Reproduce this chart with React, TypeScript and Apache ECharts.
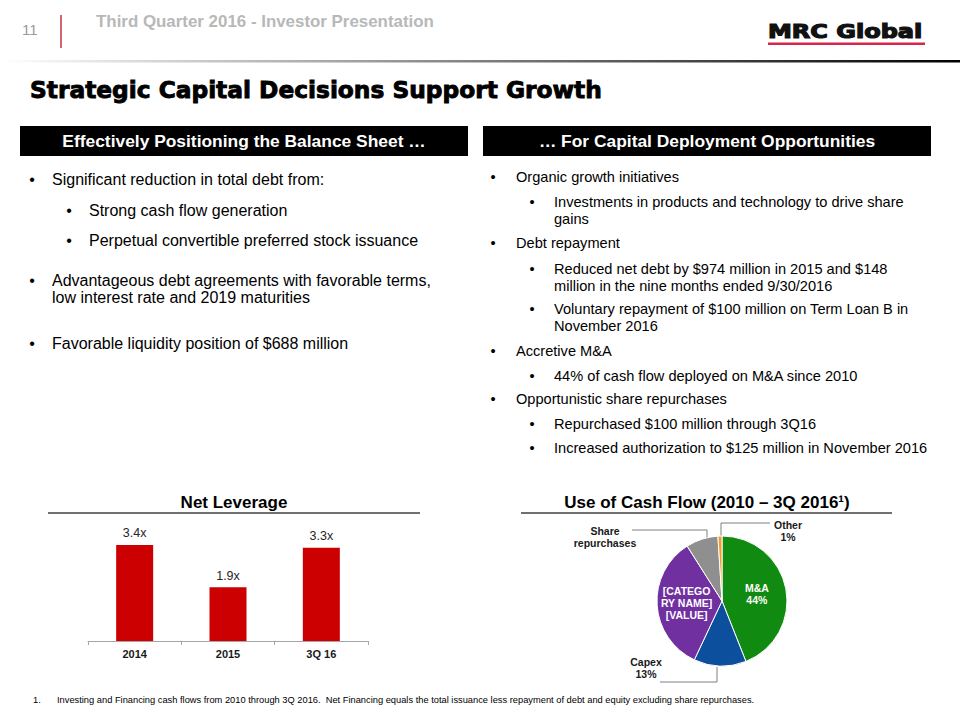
import React, { useEffect, useRef } from "react";
import * as echarts from "echarts";

// ---------- data ----------
const leverageCategories = ["2014", "2015", "3Q 16"];
const leverageValues = [3.4, 1.9, 3.3];

const cashFlowNames = ["M&A", "Capex", "Net Financing", "Share repurchases", "Other"];
const cashFlowValues = [44, 13, 34, 8, 1];
const cashFlowColors = ["#108a10", "#0b4f9d", "#7030a0", "#8f8f8f", "#f39a26"];

const leftItems = [
  { level: 0, text: "Significant reduction in total debt from:" },
  { level: 1, text: "Strong cash flow generation" },
  { level: 1, text: "Perpetual convertible preferred stock issuance" },
  { level: 0, text: "Advantageous debt agreements with favorable terms,\nlow interest rate and 2019 maturities" },
  { level: 0, text: "Favorable liquidity position of $688 million" },
];
const rightItems = [
  { level: 0, text: "Organic growth initiatives" },
  { level: 1, text: "Investments in products and technology to drive share\ngains" },
  { level: 0, text: "Debt repayment" },
  { level: 1, text: "Reduced net debt by $974 million in 2015 and $148\nmillion in the nine months ended 9/30/2016" },
  { level: 1, text: "Voluntary repayment of $100 million on Term Loan B in\nNovember 2016" },
  { level: 0, text: "Accretive M&A" },
  { level: 1, text: "44% of cash flow deployed on M&A since 2010" },
  { level: 0, text: "Opportunistic share repurchases" },
  { level: 1, text: "Repurchased $100 million through 3Q16" },
  { level: 1, text: "Increased authorization to $125 million in November 2016" },
];

const footnoteText =
  "Investing and Financing cash flows from 2010 through 3Q 2016.  Net Financing equals the total issuance less repayment of debt and equity excluding share repurchases.";

// ---------- layout ----------
const leftItemY = [179, 210, 240, 280, 343];
const rightItemY = [177, 202, 243, 269, 309, 351, 376, 399, 424, 448];
const FONT = "'Liberation Sans', Arial, sans-serif";
const PIE_CENTER = [722, 601];
const PIE_R = 65;
const outsideLabelPos: Record<number, [number, number]> = {
  1: [646, 668],
  3: [605, 537],
  4: [788, 531],
};

function bulletElements(items: { level: number; text: string }[], ys: number[], cfg: any) {
  const els: any[] = [];
  items.forEach((it, i) => {
    const y = ys[i];
    els.push({
      type: "text",
      x: it.level ? cfg.subBullet : cfg.mainBullet,
      y,
      style: { text: "•", fontSize: cfg.size, fontFamily: FONT, fill: "#000", align: "center", verticalAlign: "middle" },
    });
    els.push({
      type: "text",
      x: it.level ? cfg.subText : cfg.mainText,
      y: y - cfg.lh / 2,
      style: {
        text: it.text,
        fontSize: cfg.size,
        fontFamily: FONT,
        fill: "#000",
        lineHeight: cfg.lh,
        align: "left",
        verticalAlign: "top",
      },
    });
  });
  return els;
}

export default function App() {
  const ref = useRef<HTMLDivElement>(null);
  useEffect(() => {
    if (!ref.current) return;
    const chart = echarts.init(ref.current, null, { renderer: "svg" });

    const graphics: any[] = [
      // header
      { type: "text", x: 22, y: 29, style: { text: "11", fontSize: 15, fontFamily: FONT, fill: "#9a9a9a", verticalAlign: "middle" } },
      { type: "line", shape: { x1: 61, y1: 15, x2: 61, y2: 48 }, style: { stroke: "#c0393b", lineWidth: 1.5 } },
      {
        type: "text",
        x: 96,
        y: 21,
        style: { text: "Third Quarter 2016 - Investor Presentation", fontSize: 16.9, fontWeight: "bold", fontFamily: FONT, fill: "#b8b8b8", verticalAlign: "middle" },
      },
      {
        type: "text",
        x: 768,
        y: 31,
        scaleX: 1.2,
        style: {
          text: "MRC Global",
          fontSize: 20,
          fontWeight: "bold",
          fontFamily: "'DejaVu Sans', sans-serif",
          fill: "#111",
          stroke: "#111",
          lineWidth: 1.2,
          verticalAlign: "middle",
        },
      },
      { type: "rect", shape: { x: 768, y: 42.5, width: 157, height: 2.5 }, style: { fill: "#d8264b" } },
      {
        type: "rect",
        shape: { x: 0, y: 60, width: 960, height: 2.5 },
        style: {
          fill: new echarts.graphic.LinearGradient(0, 0, 1, 0, [
            { offset: 0, color: "#ffffff" },
            { offset: 1, color: "#000000" },
          ]),
        },
      },
      {
        type: "text",
        x: 30,
        y: 89,
        style: {
          text: "Strategic Capital Decisions Support Growth",
          fontSize: 23.3,
          fontWeight: "bold",
          fontFamily: "'DejaVu Sans', sans-serif",
          fill: "#000",
          stroke: "#000",
          lineWidth: 0.9,
          verticalAlign: "middle",
        },
      },
      // section headers
      { type: "rect", shape: { x: 20, y: 126, width: 448, height: 30 }, style: { fill: "#000" } },
      {
        type: "text",
        x: 244,
        y: 141,
        style: { text: "Effectively Positioning the Balance Sheet …", fontSize: 17.4, fontWeight: "bold", fontFamily: FONT, fill: "#fff", align: "center", verticalAlign: "middle" },
      },
      { type: "rect", shape: { x: 483, y: 126, width: 448, height: 30 }, style: { fill: "#000" } },
      {
        type: "text",
        x: 707,
        y: 141,
        style: { text: "… For Capital Deployment Opportunities", fontSize: 17.4, fontWeight: "bold", fontFamily: FONT, fill: "#fff", align: "center", verticalAlign: "middle" },
      },
      ...bulletElements(leftItems, leftItemY, { mainBullet: 32, subBullet: 69, mainText: 52, subText: 89, size: 16, lh: 17.5 }),
      ...bulletElements(rightItems, rightItemY, { mainBullet: 493, subBullet: 532, mainText: 516, subText: 554, size: 14.6, lh: 16.5 }),
      // chart titles
      {
        type: "text",
        x: 234,
        y: 502,
        style: { text: "Net Leverage", fontSize: 17, fontWeight: "bold", fontFamily: FONT, fill: "#000", align: "center", verticalAlign: "middle" },
      },
      { type: "line", shape: { x1: 48, y1: 513, x2: 420, y2: 513 }, style: { stroke: "#404040", lineWidth: 1.5 } },
      {
        type: "text",
        x: 707,
        y: 502,
        style: { text: "Use of Cash Flow (2010 – 3Q 2016¹)", fontSize: 17, fontWeight: "bold", fontFamily: FONT, fill: "#000", align: "center", verticalAlign: "middle" },
      },
      { type: "line", shape: { x1: 521, y1: 513, x2: 892, y2: 513 }, style: { stroke: "#404040", lineWidth: 1.5 } },
      // pie leader lines
      { type: "polyline", shape: { points: [[632, 530], [707, 530], [707, 542]] }, style: { stroke: "#7f7f7f", lineWidth: 1, fill: null } },
      { type: "polyline", shape: { points: [[770, 523], [721, 523], [721, 536]] }, style: { stroke: "#7f7f7f", lineWidth: 1, fill: null } },
      { type: "polyline", shape: { points: [[660, 682], [717, 682], [717, 667]] }, style: { stroke: "#7f7f7f", lineWidth: 1, fill: null } },
      // footnote
      { type: "text", x: 33, y: 700, style: { text: "1.", fontSize: 9.3, fontFamily: FONT, fill: "#000", verticalAlign: "middle" } },
      { type: "text", x: 57, y: 700, style: { text: footnoteText, fontSize: 9.3, fontFamily: FONT, fill: "#000", verticalAlign: "middle" } },
    ];

    const pieData = cashFlowNames.map((name, i) => {
      const inside = i === 0 || i === 2;
      let formatter = "{b}\n{c}%";
      if (i === 2) formatter = "[CATEGO\nRY NAME]\n[VALUE]";
      if (i === 3) formatter = "Share\nrepurchases";
      return {
        name,
        value: cashFlowValues[i],
        itemStyle: { color: cashFlowColors[i] },
        label: {
          show: true,
          position: inside ? "inside" : "outside",
          formatter,
          color: inside ? "#fff" : "#1a1a1a",
        },
      };
    });

    chart.setOption({
      animation: false,
      textStyle: { fontFamily: FONT },
      grid: { left: 88, top: 528, width: 280, height: 113 },
      xAxis: {
        type: "category",
        data: leverageCategories,
        axisLine: { lineStyle: { color: "#a6a6a6", width: 1 } },
        axisTick: { show: true, alignWithLabel: false, length: 4, lineStyle: { color: "#a6a6a6" } },
        axisLabel: { fontSize: 11, fontWeight: "bold", color: "#1a1a1a", margin: 7, fontFamily: FONT },
      },
      yAxis: { type: "value", min: 0, max: 4, show: false },
      series: [
        {
          type: "bar",
          data: leverageValues,
          barWidth: 37,
          itemStyle: { color: "#cc0000" },
          label: {
            show: true,
            position: "top",
            distance: 5,
            fontSize: 12.5,
            color: "#262626",
            fontFamily: FONT,
            formatter: (p: any) => Number(p.value).toFixed(1) + "x",
          },
        },
        {
          type: "pie",
          center: PIE_CENTER,
          radius: PIE_R,
          startAngle: 90,
          clockwise: true,
          avoidLabelOverlap: false,
          itemStyle: { borderColor: "#fff", borderWidth: 1 },
          label: { fontSize: 10.5, fontWeight: "bold", lineHeight: 12, fontFamily: FONT },
          labelLine: { show: false },
          labelLayout: (params: any) => {
            const p = outsideLabelPos[params.dataIndex];
            if (!p) return {};
            return { x: p[0], y: p[1], align: "center", verticalAlign: "middle" };
          },
          data: pieData,
        },
      ],
      graphic: { elements: graphics },
    });
    return () => chart.dispose();
  }, []);
  return <div ref={ref} style={{ position: "absolute", left: 0, top: 0, width: 960, height: 720, background: "#fff" }} />;
}
